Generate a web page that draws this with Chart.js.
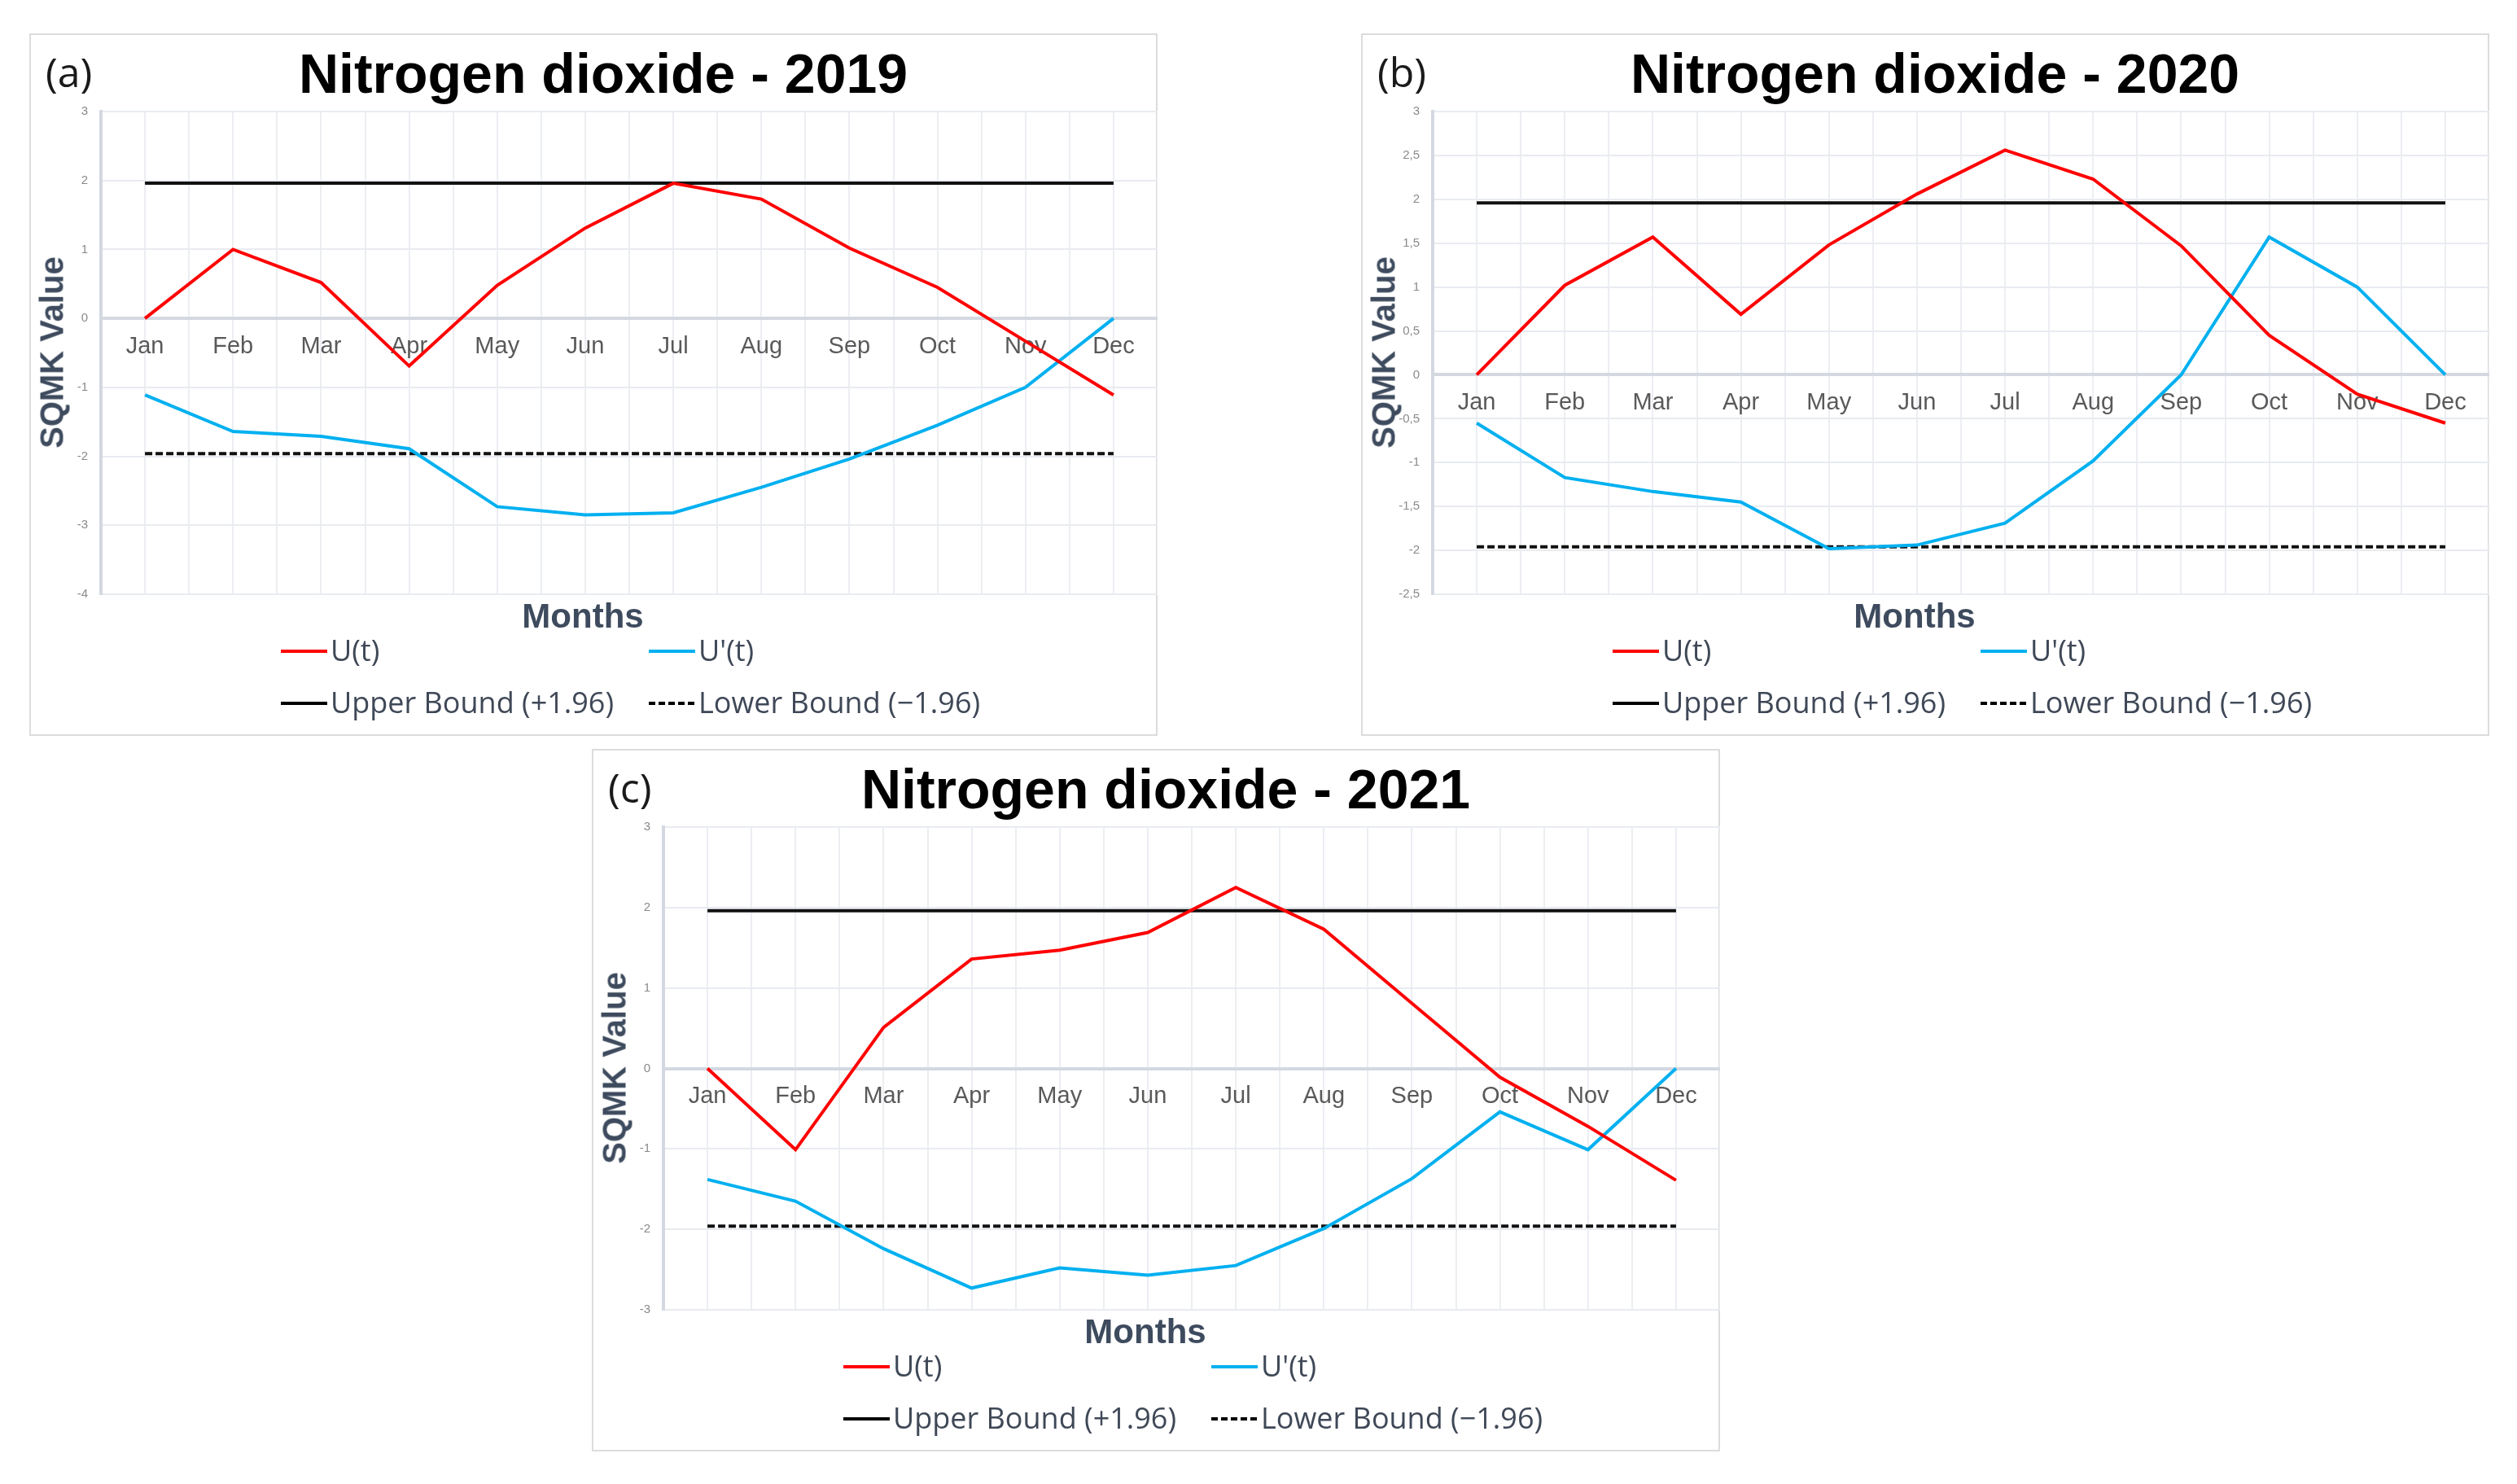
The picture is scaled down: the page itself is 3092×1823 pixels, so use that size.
<!DOCTYPE html>
<html>
<head>
<meta charset="utf-8">
<script src="https://cdn.jsdelivr.net/npm/chart.js@4.4.1/dist/chart.umd.min.js"></script>
<style>
  html, body { margin: 0; padding: 0; background: #fff; }
  body { width: 3092px; height: 1823px; position: relative; overflow: hidden; }
  .panel { position: absolute; width: 1386px; height: 863px; }
  .frame { position: absolute; left: 0; top: 0; right: 0; bottom: 0; border: 2px solid #dcdcdc; box-sizing: border-box; }
  .cbox { position: absolute; left: 0; top: 0; width: 1386px; height: 863px; }
  .t { position: absolute; white-space: nowrap; transform: translate(-50%, -50%); line-height: 1; }
  .letter { font: 50px "Open Sans", sans-serif; color: #1a1a1a; transform: translate(0, -50%); }
  .title { font: bold 68px "Liberation Sans", Arial, sans-serif; color: #000; }
  .ytitle { font: bold 40px "Liberation Sans", Arial, sans-serif; color: #3e4b5e; transform: translate(-50%, -50%) rotate(-90deg); }
  .xtitle { font: bold 42px "Liberation Sans", Arial, sans-serif; color: #3e4b5e; }
  .sw { position: absolute; width: 57px; height: 4px; transform: translateY(-50%); }
  .lt { position: absolute; white-space: nowrap; font: 36px "Open Sans", sans-serif; color: #3f4857; transform: translateY(-52%); line-height: 1; }
</style>
</head>
<body>
<script>
// months on the x axis
const months = ['Jan', 'Feb', 'Mar', 'Apr', 'May', 'Jun', 'Jul', 'Aug', 'Sep', 'Oct', 'Nov', 'Dec'];

// SQMK values
const u2019 = [0, 1.0, 0.52, -0.69, 0.48, 1.31, 1.96, 1.73, 1.02, 0.45, -0.33, -1.11];
const uPrime2019 = [-1.11, -1.64, -1.71, -1.89, -2.73, -2.85, -2.82, -2.45, -2.04, -1.55, -1.0, 0];

const u2020 = [0, 1.02, 1.57, 0.69, 1.48, 2.06, 2.56, 2.23, 1.47, 0.45, -0.22, -0.55];
const uPrime2020 = [-0.55, -1.17, -1.33, -1.45, -1.98, -1.94, -1.69, -0.98, 0, 1.57, 1.0, 0];

const u2021 = [0, -1.01, 0.51, 1.36, 1.47, 1.69, 2.25, 1.73, 0.81, -0.11, -0.72, -1.39];
const uPrime2021 = [-1.38, -1.65, -2.24, -2.73, -2.48, -2.57, -2.45, -1.99, -1.37, -0.54, -1.01, 0];

// confidence bounds
const upperBound = [1.96, 1.96, 1.96, 1.96, 1.96, 1.96, 1.96, 1.96, 1.96, 1.96, 1.96, 1.96];
const lowerBound = [-1.96, -1.96, -1.96, -1.96, -1.96, -1.96, -1.96, -1.96, -1.96, -1.96, -1.96, -1.96];

// y axis ranges [min, max, step]
const yAxis2019 = [-4, 3, 1];
const yAxis2020 = [-2.5, 3, 0.5];
const yAxis2021 = [-3, 3, 1];

const legendLabels = ['U(t)', "U'(t)", 'Upper Bound (+1.96)', 'Lower Bound (\u22121.96)'];

const panels = [
  { id: 'a', year: 2019, left: 36, top: 41, u: u2019, up: uPrime2019, y: yAxis2019 },
  { id: 'b', year: 2020, left: 1672, top: 41, u: u2020, up: uPrime2020, y: yAxis2020 },
  { id: 'c', year: 2021, left: 727, top: 920, u: u2021, up: uPrime2021, y: yAxis2021 }
];

const pts = arr => arr.map((v, i) => ({ x: i, y: v }));

panels.forEach(p => {
  const el = document.createElement('div');
  el.className = 'panel';
  el.style.left = p.left + 'px';
  el.style.top = p.top + 'px';
  el.innerHTML = `
    <div class="frame"></div>
    <div class="cbox"><canvas id="c_${p.id}"></canvas></div>
    <div class="t letter" style="left:20px;top:47px">(${p.id})</div>
    <div class="t title" style="left:705px;top:49px">Nitrogen dioxide - ${p.year}</div>
    <div class="t ytitle" style="left:28px;top:392px">SQMK Value</div>
    <div class="t xtitle" style="left:680px;top:716px">Months</div>
    <div class="sw" style="left:309px;top:759px;background:#ff0000"></div>
    <div class="lt" style="left:370px;top:759px">${legendLabels[0]}</div>
    <div class="sw" style="left:761px;top:759px;background:#00b0f0"></div>
    <div class="lt" style="left:822px;top:759px">${legendLabels[1]}</div>
    <div class="sw" style="left:309px;top:823px;background:#000"></div>
    <div class="lt" style="left:370px;top:823px">${legendLabels[2]}</div>
    <div class="sw" style="left:761px;top:823px;background:repeating-linear-gradient(90deg,#000 0 8px,transparent 8px 12px)"></div>
    <div class="lt" style="left:822px;top:823px">${legendLabels[3]}</div>`;
  document.body.appendChild(el);

  const comma = p.y[2] < 1;
  new Chart(document.getElementById('c_' + p.id), {
    type: 'line',
    data: {
      datasets: [
        { label: legendLabels[0], data: pts(p.u), borderColor: '#ff0000', borderWidth: 4 },
        { label: legendLabels[1], data: pts(p.up), borderColor: '#00b0f0', borderWidth: 4 },
        { label: legendLabels[2], data: pts(upperBound), borderColor: '#111', borderWidth: 4 },
        { label: legendLabels[3], data: pts(lowerBound), borderColor: '#111', borderWidth: 4, borderDash: [9, 4] }
      ]
    },
    options: {
      responsive: true,
      maintainAspectRatio: false,
      animation: false,
      elements: { point: { radius: 0 }, line: { tension: 0, fill: false } },
      layout: { padding: { left: 0, top: 96, right: 0, bottom: 174 } },
      plugins: { legend: { display: false }, tooltip: { enabled: false } },
      scales: {
        x: {
          type: 'linear',
          position: { y: 0 },
          min: -0.5,
          max: 11.5,
          afterFit: s => { s.height = 0; s.paddingLeft = 0; s.paddingRight = 0; },
          ticks: {
            stepSize: 0.5,
            autoSkip: false,
            maxRotation: 0,
            padding: 17,
            color: '#595959',
            font: { family: 'Liberation Sans', size: 29 },
            callback: v => Number.isInteger(v) ? months[v] : ''
          },
          grid: { color: '#eceef2', lineWidth: 2, drawTicks: false },
          border: { color: '#d3d8e1', width: 4 }
        },
        y: {
          min: p.y[0],
          max: p.y[1],
          afterFit: s => { s.width = 88; },
          ticks: {
            stepSize: p.y[2],
            padding: 16,
            color: '#8a8a8a',
            font: { family: 'Liberation Sans', size: 15 },
            callback: v => comma ? String(v).replace('.', ',') : String(v)
          },
          grid: { color: '#e8ebf0', lineWidth: 2, drawTicks: false },
          border: { color: '#d3d8e1', width: 4 }
        }
      }
    }
  });
});
</script>
</body>
</html>
